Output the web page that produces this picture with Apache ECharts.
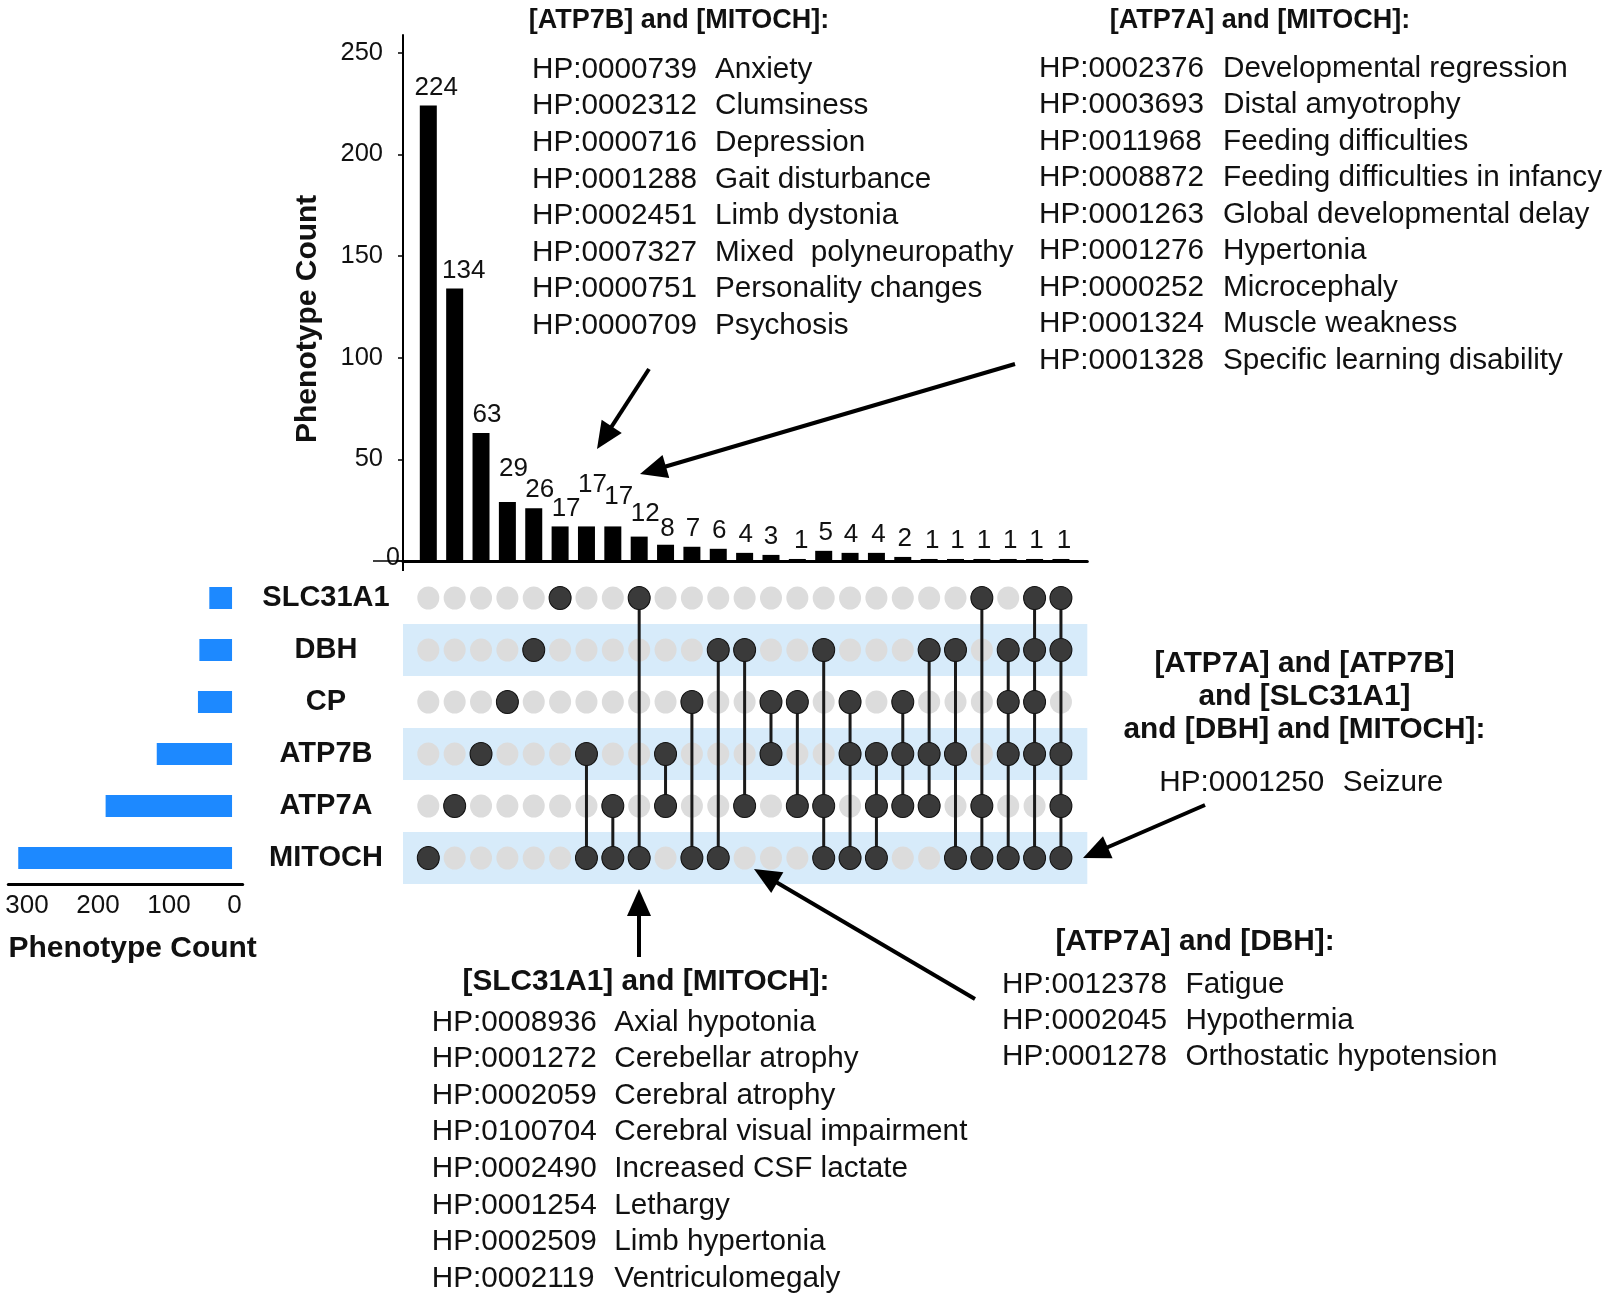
<!DOCTYPE html>
<html><head><meta charset="utf-8">
<script src="https://cdn.jsdelivr.net/npm/echarts@6/dist/echarts.min.js"></script>
<style>html,body{margin:0;padding:0;background:#fff}#c{width:1608px;height:1301px}</style>
</head><body><div id="c"></div>
<script>
// ---------------- data ----------------
const setNames = ['SLC31A1', 'DBH', 'CP', 'ATP7B', 'ATP7A', 'MITOCH']; // top to bottom
const setSizes = [32, 46, 48, 106, 178, 301];
const intersectionCounts = [224, 134, 63, 29, 26, 17, 17, 17, 12, 8, 7, 6, 4, 3, 1, 5, 4, 4, 2, 1, 1, 1, 1, 1, 1];
const intersectionSets = [
  ['MITOCH'], ['ATP7A'], ['ATP7B'], ['CP'], ['DBH'], ['SLC31A1'],
  ['ATP7B', 'MITOCH'], ['ATP7A', 'MITOCH'], ['SLC31A1', 'MITOCH'], ['ATP7B', 'ATP7A'],
  ['CP', 'MITOCH'], ['DBH', 'MITOCH'], ['DBH', 'ATP7A'], ['CP', 'ATP7B'], ['CP', 'ATP7A'],
  ['DBH', 'ATP7A', 'MITOCH'], ['CP', 'ATP7B', 'MITOCH'], ['ATP7B', 'ATP7A', 'MITOCH'],
  ['CP', 'ATP7B', 'ATP7A'], ['DBH', 'ATP7B', 'ATP7A'], ['DBH', 'ATP7B', 'MITOCH'],
  ['SLC31A1', 'ATP7A', 'MITOCH'], ['DBH', 'CP', 'ATP7B', 'MITOCH'],
  ['SLC31A1', 'DBH', 'CP', 'ATP7B', 'MITOCH'], ['SLC31A1', 'DBH', 'ATP7B', 'ATP7A', 'MITOCH']
];
const countTicks = [0, 50, 100, 150, 200, 250];
const setSizeTicks = [0, 100, 200, 300];

// annotation texts
const atp7bMitochHeader = ['[ATP7B] and [MITOCH]:'];
const atp7bMitochCodes = ['HP:0000739', 'HP:0002312', 'HP:0000716', 'HP:0001288', 'HP:0002451', 'HP:0007327', 'HP:0000751', 'HP:0000709'];
const atp7bMitochNames = ['Anxiety', 'Clumsiness', 'Depression', 'Gait disturbance', 'Limb dystonia', 'Mixed  polyneuropathy', 'Personality changes', 'Psychosis'];
const atp7aMitochHeader = ['[ATP7A] and [MITOCH]:'];
const atp7aMitochCodes = ['HP:0002376', 'HP:0003693', 'HP:0011968', 'HP:0008872', 'HP:0001263', 'HP:0001276', 'HP:0000252', 'HP:0001324', 'HP:0001328'];
const atp7aMitochNames = ['Developmental regression', 'Distal amyotrophy', 'Feeding difficulties', 'Feeding difficulties in infancy', 'Global developmental delay', 'Hypertonia', 'Microcephaly', 'Muscle weakness', 'Specific learning disability'];
const allFiveHeader = ['[ATP7A] and [ATP7B]', 'and [SLC31A1]', 'and [DBH] and [MITOCH]:'];
const allFiveCodes = ['HP:0001250'];
const allFiveNames = ['Seizure'];
const atp7aDbhHeader = ['[ATP7A] and [DBH]:'];
const atp7aDbhCodes = ['HP:0012378', 'HP:0002045', 'HP:0001278'];
const atp7aDbhNames = ['Fatigue', 'Hypothermia', 'Orthostatic hypotension'];
const slcMitochHeader = ['[SLC31A1] and [MITOCH]:'];
const slcMitochCodes = ['HP:0008936', 'HP:0001272', 'HP:0002059', 'HP:0100704', 'HP:0002490', 'HP:0001254', 'HP:0002509', 'HP:0002119'];
const slcMitochNames = ['Axial hypotonia', 'Cerebellar atrophy', 'Cerebral atrophy', 'Cerebral visual impairment', 'Increased CSF lactate', 'Lethargy', 'Limb hypertonia', 'Ventriculomegaly'];

// ---------------- styling / layout ----------------
const FONT = '"Liberation Sans", Arial, Helvetica, sans-serif';
const TXT = '#111';
const BODY_SIZE = 29.7;
const labelNudges = [[8,0],[9,0],[6,0],[6,-15],[6,0],[6,0],[6,-24],[6,-12],[6,-5],[2,2],
  [1,0],[1,0],[1,0],[0,0],[4,0],[2,0],[1,0],[2,0],[2,0],[3,0],[2,0],[2,0],[2,0],[2,0],[3,0]];
const matrixRows = setNames.slice().reverse(); // bottom to top
const ELLIPSE = 'path://M0,12a11,12 0 1,0 22,0a11,12 0 1,0 -22,0';

const chart = echarts.init(document.getElementById('c'), null, {renderer: 'canvas'});

const greyDots = [], darkDots = [], links = [];
intersectionSets.forEach((s, i) => {
  setNames.forEach(n => greyDots.push([i, n]));
  s.forEach(n => darkDots.push([i, n]));
  if (s.length > 1) {
    const idx = s.map(n => matrixRows.indexOf(n));
    links.push([i, Math.min(...idx), Math.max(...idx)]);
  }
});

const barData = intersectionCounts.map((c, i) => ({
  value: [i, c],
  label: {offset: labelNudges[i]}
}));

const X_MIN = -0.96, X_MAX = 25.0;

const option = {
  animation: false,
  backgroundColor: '#fff',
  textStyle: {fontFamily: FONT},
  grid: [
    {left: 403, top: 35, width: 684.3, height: 526, outerBoundsMode: 'none', containLabel: false},
    {left: 8.3, top: 572, width: 234.4, height: 312, outerBoundsMode: 'none', containLabel: false},
    {left: 403, top: 572, width: 684.3, height: 312, outerBoundsMode: 'none', containLabel: false}
  ],
  xAxis: [
    {gridIndex: 0, type: 'value', min: X_MIN, max: X_MAX,
      axisLine: {show: true, onZero: false, lineStyle: {color: '#000', width: 3}},
      axisTick: {show: false}, axisLabel: {show: false}, splitLine: {show: false}},
    {gridIndex: 1, type: 'value', inverse: true, min: -15, max: 315,
      axisLine: {show: true, onZero: false, lineStyle: {color: '#000', width: 3}},
      axisTick: {show: false}, splitLine: {show: false},
      axisLabel: {show: true, customValues: setSizeTicks, margin: 9, fontSize: 26, color: TXT, fontFamily: FONT,
        formatter: v => v === 0 ? '{z|0}' : '{n|' + v + '}',
        rich: {z: {fontSize: 26, color: TXT, fontFamily: FONT, padding: [0, 0, 0, 5]},
               n: {fontSize: 26, color: TXT, fontFamily: FONT, padding: [0, 0, 0, 16]}}}},
    {gridIndex: 2, type: 'value', min: X_MIN, max: X_MAX, show: false}
  ],
  yAxis: [
    {gridIndex: 0, type: 'value', min: 0, max: 258.7,
      axisLine: {show: true, onZero: false, lineStyle: {color: '#000', width: 2}},
      axisTick: {show: true, customValues: countTicks, length: 5, lineStyle: {color: '#000', width: 1.5}},
      splitLine: {show: false},
      axisLabel: {show: true, customValues: countTicks, margin: 3, fontSize: 25, color: TXT, fontFamily: FONT,
        formatter: v => v === 0 ? '{z|0}' : '{n|' + v + '}',
        rich: {z: {fontSize: 25, color: TXT, fontFamily: FONT, padding: [0, 0, 6, 0]},
               n: {fontSize: 25.5, color: TXT, fontFamily: FONT, padding: [0, 17, 0, 0]}}}},
    {gridIndex: 1, type: 'category', data: matrixRows, show: false},
    {gridIndex: 2, type: 'category', data: matrixRows,
      axisLine: {show: false}, axisTick: {show: false}, splitLine: {show: false},
      splitArea: {show: true, areaStyle: {color: ['#d7ebfa', 'rgba(255,255,255,0)']}},
      axisLabel: {show: true, margin: 77, align: 'center', fontSize: 29, fontWeight: 'bold', color: TXT, fontFamily: FONT}}
  ],
  series: [
    {type: 'bar', xAxisIndex: 0, yAxisIndex: 0, data: barData, barWidth: 17,
      itemStyle: {color: '#000'},
      label: {show: true, position: 'top', distance: 5, fontSize: 26, color: TXT, fontFamily: FONT}},
    {type: 'bar', xAxisIndex: 1, yAxisIndex: 1, data: setSizes.slice().reverse(), barWidth: 22,
      itemStyle: {color: '#1d89ff'}},
    {type: 'scatter', xAxisIndex: 2, yAxisIndex: 2, data: greyDots, symbol: ELLIPSE, symbolSize: [22, 23],
      itemStyle: {color: '#dcdcdc', opacity: 1}, z: 2},
    {type: 'custom', xAxisIndex: 2, yAxisIndex: 2, data: links, z: 3,
      encode: {x: 0, y: [1, 2]},
      renderItem: (params, api) => {
        const p1 = api.coord([api.value(0), api.value(1)]);
        const p2 = api.coord([api.value(0), api.value(2)]);
        return {type: 'line', shape: {x1: p1[0], y1: p1[1], x2: p2[0], y2: p2[1]},
          style: {stroke: '#1a1a1a', lineWidth: 3}};
      }},
    {type: 'scatter', xAxisIndex: 2, yAxisIndex: 2, data: darkDots, symbol: ELLIPSE, symbolSize: [22, 23],
      itemStyle: {color: '#3a3a3a', borderColor: '#111', borderWidth: 1, opacity: 1}, z: 4}
  ]
};

// ---------------- annotations ----------------
const graphics = [];
function txt(x, y, s, opts) {
  opts = opts || {};
  graphics.push({type: 'text', x: x, y: y, rotation: opts.rot || 0, z: 50,
    style: {text: s, font: (opts.bold ? 'bold ' : '') + (opts.size || BODY_SIZE) + 'px ' + FONT,
      fill: TXT, textAlign: opts.align || 'left', align: opts.align || 'left',
      textVerticalAlign: 'middle', verticalAlign: 'middle'}});
}
function block(header, hSize, hx, hy, hStep, codes, names, cx, nx, y0, step) {
  header.forEach((h, i) => txt(hx, hy + i * hStep, h, {bold: true, size: hSize, align: 'center'}));
  codes.forEach((c, i) => { txt(cx, y0 + i * step, c); txt(nx, y0 + i * step, names[i]); });
}
block(atp7bMitochHeader, 27, 679, 21, 0, atp7bMitochCodes, atp7bMitochNames, 532, 715, 69.7, 36.6);
block(atp7aMitochHeader, 27, 1260, 21, 0, atp7aMitochCodes, atp7aMitochNames, 1039, 1223, 68.7, 36.5);
block(allFiveHeader, 29.8, 1304.5, 663.3, 33.3, allFiveCodes, allFiveNames, 1159.3, 1342.7, 783.3, 36.6);
block(atp7aDbhHeader, 29.8, 1195, 941.4, 0, atp7aDbhCodes, atp7aDbhNames, 1002, 1185.5, 984.5, 36.4);
block(slcMitochHeader, 29.8, 646, 982, 0, slcMitochCodes, slcMitochNames, 431.7, 614.3, 1022.4, 36.6);
// axis titles
txt(307.5, 318.8, 'Phenotype Count', {bold: true, size: 30, align: 'center', rot: Math.PI / 2});
txt(132.7, 948.3, 'Phenotype Count', {bold: true, size: 30, align: 'center'});

const arrows = [
  [649, 369, 597, 449],
  [1015, 364, 640, 474],
  [639, 957, 639, 889],
  [975, 999, 754, 869],
  [1205, 805, 1083, 858]
];
arrows.forEach(a => {
  const [x1, y1, x2, y2] = a;
  const dx = x2 - x1, dy = y2 - y1, L = Math.hypot(dx, dy);
  const ux = dx / L, uy = dy / L, nx = -uy, ny = ux;
  const HL = 27, HW = 12;
  const bx = x2 - ux * HL, by = y2 - uy * HL;
  graphics.push({type: 'line', z: 60, shape: {x1: x1, y1: y1, x2: bx + ux * 2, y2: by + uy * 2},
    style: {stroke: '#000', lineWidth: 4}});
  graphics.push({type: 'polygon', z: 60,
    shape: {points: [[x2, y2], [bx + nx * HW, by + ny * HW], [bx - nx * HW, by - ny * HW]]},
    style: {fill: '#000'}});
});

option.graphic = {elements: graphics};
chart.setOption(option);

// small decorations tied to the axes
const p0 = chart.convertToPixel({xAxisIndex: 0, yAxisIndex: 0}, [X_MIN, 0]);
chart.setOption({graphic: {elements: graphics.concat([
  {type: 'line', z: 40, shape: {x1: p0[0] - 30, y1: p0[1], x2: p0[0], y2: p0[1]}, style: {stroke: '#000', lineWidth: 1.5}},
  {type: 'line', z: 40, shape: {x1: p0[0], y1: p0[1], x2: p0[0], y2: p0[1] + 10}, style: {stroke: '#000', lineWidth: 2}}
])}});
</script>
</body></html>
